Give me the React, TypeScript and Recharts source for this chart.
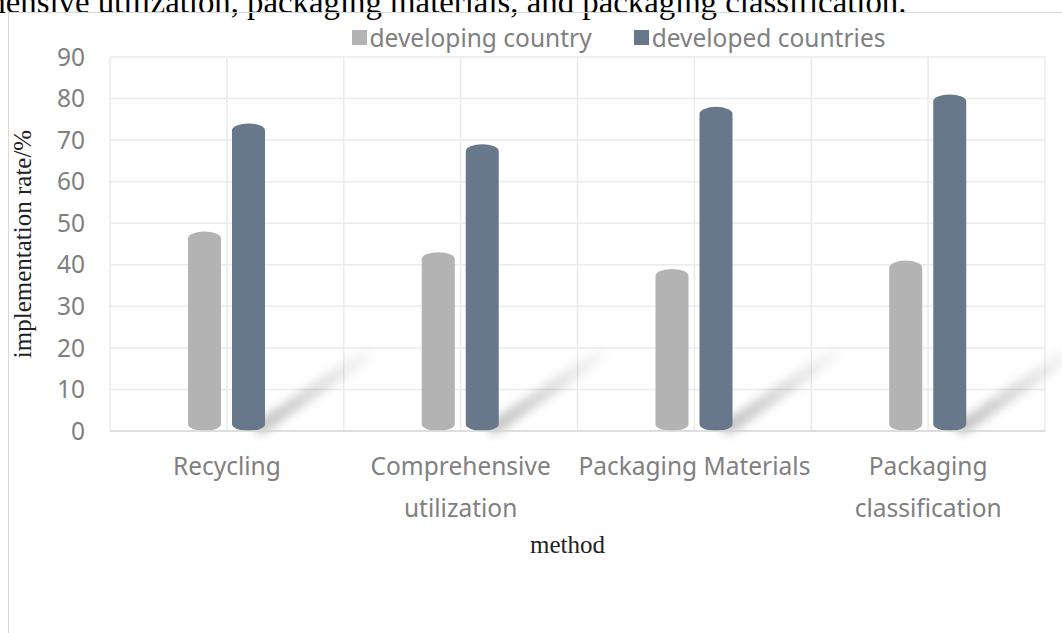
import React from "react"
import { BarChart, Bar, XAxis, YAxis, CartesianGrid } from "recharts"

const categories = ["Recycling", "Comprehensive utilization", "Packaging Materials", "Packaging classification"]
const tickLines = [["Recycling"], ["Comprehensive", "utilization"], ["Packaging Materials"], ["Packaging", "classification"]]
const developing = [48, 43, 39, 41]
const developed = [74, 69, 78, 81]
const yTicks = [0, 10, 20, 30, 40, 50, 60, 70, 80, 90]

const GRAY = "#b3b3b3"
const SLATE = "#67788a"
const TICK = "#808080"
const FONT = "'Noto Sans', sans-serif"
const SERIF = "'Liberation Serif', 'Times New Roman', serif"
const FS = 24.5

const data = categories.map((name, i) => ({
  name,
  developing: developing[i],
  developed: developed[i],
}))

// cylinder-ish bar with elliptical caps
function cylinderPath(x: number, y: number, w: number, h: number) {
  const ry = Math.min(7, h / 2)
  const rx = w / 2
  return `M${x},${y + ry} A${rx},${ry} 0 0 1 ${x + w},${y + ry} L${x + w},${y + h - ry} A${rx},${ry} 0 0 1 ${x},${y + h - ry} Z`
}

function GrayBar(props: any) {
  const { x, y, width, height } = props
  return <path d={cylinderPath(x, y, width, height)} fill={GRAY} />
}

function SlateBar(props: any) {
  const { x, y, width, height } = props
  const bx = x + width - 4
  const by = y + height - 4
  return (
    <g>
      <line
        x1={bx}
        y1={by}
        x2={bx + 105}
        y2={by - 72}
        stroke="url(#shadowGrad)"
        strokeWidth={14}
        strokeLinecap="round"
        filter="url(#shadowBlur)"
      />
      <path d={cylinderPath(x, y, width, height)} fill={SLATE} />
    </g>
  )
}

function XTick(props: any) {
  const { x, y, payload } = props
  const lines = tickLines[payload.index] || [payload.value]
  return (
    <text x={x} y={y + 42} textAnchor="middle" fill={TICK} fontSize={FS} fontFamily={FONT}>
      {lines.map((l, i) => (
        <tspan key={i} x={x} dy={i === 0 ? 0 : 42}>
          {l}
        </tspan>
      ))}
    </text>
  )
}

export default function App() {
  return (
    <div style={{ position: "absolute", left: 0, top: 0, width: 1062, height: 633, overflow: "hidden", background: "#fff" }}>
      <div
        style={{
          position: "absolute",
          left: -109,
          top: -14,
          whiteSpace: "nowrap",
          fontFamily: SERIF,
          fontSize: 32.8,
          lineHeight: "32px",
          color: "#000",
        }}
      >
        comprehensive utilization, packaging materials, and packaging classification.
      </div>
      <div
        style={{
          position: "absolute",
          left: 8,
          top: 12,
          width: 1100,
          height: 700,
          border: "1px solid #d9d9d9",
        }}
      />
      <div
        style={{
          position: "absolute",
          left: 0,
          top: 21,
          width: 1237,
          display: "flex",
          justifyContent: "center",
          gap: 42,
          fontFamily: FONT,
          fontSize: FS,
          color: TICK,
        }}
      >
        <span style={{ display: "flex", alignItems: "center" }}>
          <span style={{ width: 15, height: 15, background: GRAY, marginRight: 3 }} />
          developing country
        </span>
        <span style={{ display: "flex", alignItems: "center" }}>
          <span style={{ width: 15, height: 15, background: SLATE, marginRight: 3 }} />
          developed countries
        </span>
      </div>
      <div style={{ position: "absolute", left: 0, top: 0 }}>
        <BarChart
          width={1062}
          height={633}
          data={data}
          margin={{ top: 57, right: 17, left: 50, bottom: 92 }}
          barSize={33}
          barGap={11}
        >
          <defs>
            <linearGradient id="shadowGrad" x1="0" y1="1" x2="1" y2="0">
              <stop offset="0%" stopColor="#000" stopOpacity={0.24} />
              <stop offset="100%" stopColor="#000" stopOpacity={0.03} />
            </linearGradient>
            <filter id="shadowBlur" x="-50%" y="-50%" width="200%" height="200%">
              <feGaussianBlur stdDeviation="5" />
            </filter>
          </defs>
          <CartesianGrid
            stroke="#ebebeb"
            strokeWidth={1.5}
            verticalCoordinatesGenerator={({ offset }: any) =>
              Array.from({ length: 9 }, (_, i) => offset.left + (i * offset.width) / 8)
            }
          />
          <XAxis
            dataKey="name"
            height={110}
            tickLine={false}
            tickSize={0}
            axisLine={{ stroke: "#d9d9d9", strokeWidth: 1.5 }}
            tick={<XTick />}
            interval={0}
            label={{
              content: ({ viewBox }: any) => (
                <text
                  x={viewBox.x + viewBox.width / 2 - 10}
                  y={553}
                  textAnchor="middle"
                  fontFamily={SERIF}
                  fontSize={25}
                  fill="#222"
                >
                  method
                </text>
              ),
            }}
          />
          <YAxis
            width={60}
            domain={[0, 90]}
            ticks={yTicks}
            interval={0}
            axisLine={false}
            tickLine={false}
            tickSize={0}
            tickMargin={25}
            tick={{ fill: TICK, fontSize: FS, fontFamily: FONT }}
            label={{
              content: ({ viewBox }: any) => {
                const cx = 22
                const cy = viewBox.y + viewBox.height / 2
                return (
                  <text
                    x={cx}
                    y={cy}
                    transform={`rotate(-90 ${cx} ${cy})`}
                    textAnchor="middle"
                    dominantBaseline="central"
                    fontFamily={SERIF}
                    fontSize={25}
                    fill="#222"
                  >
                    implementation rate/%
                  </text>
                )
              },
            }}
          />
          <Bar dataKey="developing" shape={<GrayBar />} isAnimationActive={false} />
          <Bar dataKey="developed" shape={<SlateBar />} isAnimationActive={false} />
        </BarChart>
      </div>
    </div>
  )
}
